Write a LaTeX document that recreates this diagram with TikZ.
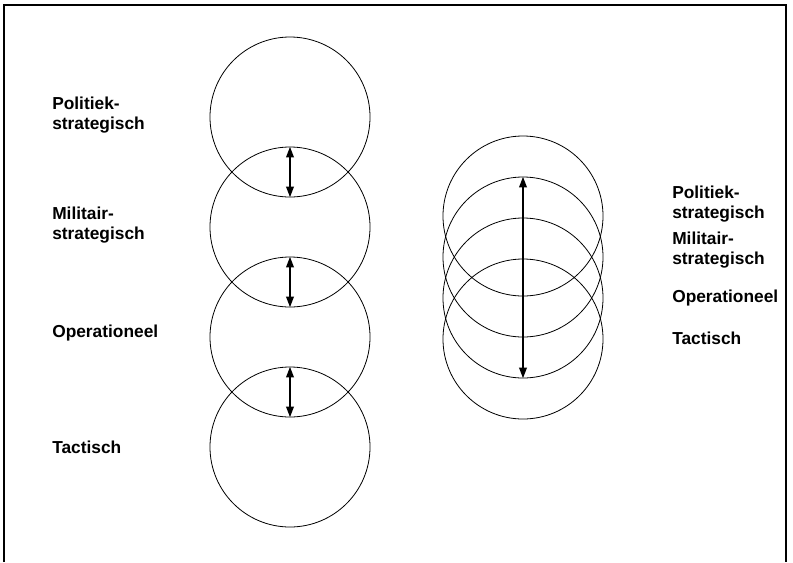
\documentclass[tikz,border=0pt]{standalone}
\usepackage{fontspec}
\setmainfont{Liberation Sans}
\usetikzlibrary{arrows.meta}

\begin{document}
\begin{tikzpicture}[
  x=0.75pt, y=-0.75pt,
  font=\fontsize{13}{14.5}\selectfont\bfseries,
  lvl/.style={draw, circle, minimum size=120pt, inner sep=0pt, line width=0.6pt},
  lbl/.style={anchor=west, align=left, inner sep=0pt},
  arr/.style={{Triangle[length=8pt,width=5.5pt]}-{Triangle[length=8pt,width=5.5pt]}, line width=1.6pt}]
\useasboundingbox (0,0) rectangle (793,562);
\draw[line width=1.1pt] (4,562) |- (786,5) -- (786,562);
% levels one below the other
\node[lvl] (pol) at (290,117) {};
\node[lvl] (mil) at (290,227) {};
\node[lvl] (ops) at (290,337) {};
\node[lvl] (tac) at (290,447) {};
\draw[arr] (mil.north) -- (pol.south);
\draw[arr] (ops.north) -- (mil.south);
\draw[arr] (tac.north) -- (ops.south);
\node[lbl] (tpol) at (52,115) {Politiek-\\strategisch};
\node[lbl] (tmil) at (52,225) {Militair-\\strategisch};
\node[lbl] (tops) at (52,333) {Operationeel};
\node[lbl] (ttac) at (52,447) {Tactisch};
% levels pushed together
\node[lvl] (rpol) at (523,216) {};
\node[lvl] (rmil) at (523,257) {};
\node[lvl] (rops) at (523,298) {};
\node[lvl] (rtac) at (523,339) {};
\draw[arr] (rmil.north) -- (rops.south);
\node[lbl] (rtpol) at (672,204) {Politiek-\\strategisch};
\node[lbl] (rtmil) at (672,250) {Militair-\\strategisch};
\node[lbl] (rtops) at (672,298) {Operationeel};
\node[lbl] (rttac) at (672,338) {Tactisch};
\end{tikzpicture}
\end{document}
